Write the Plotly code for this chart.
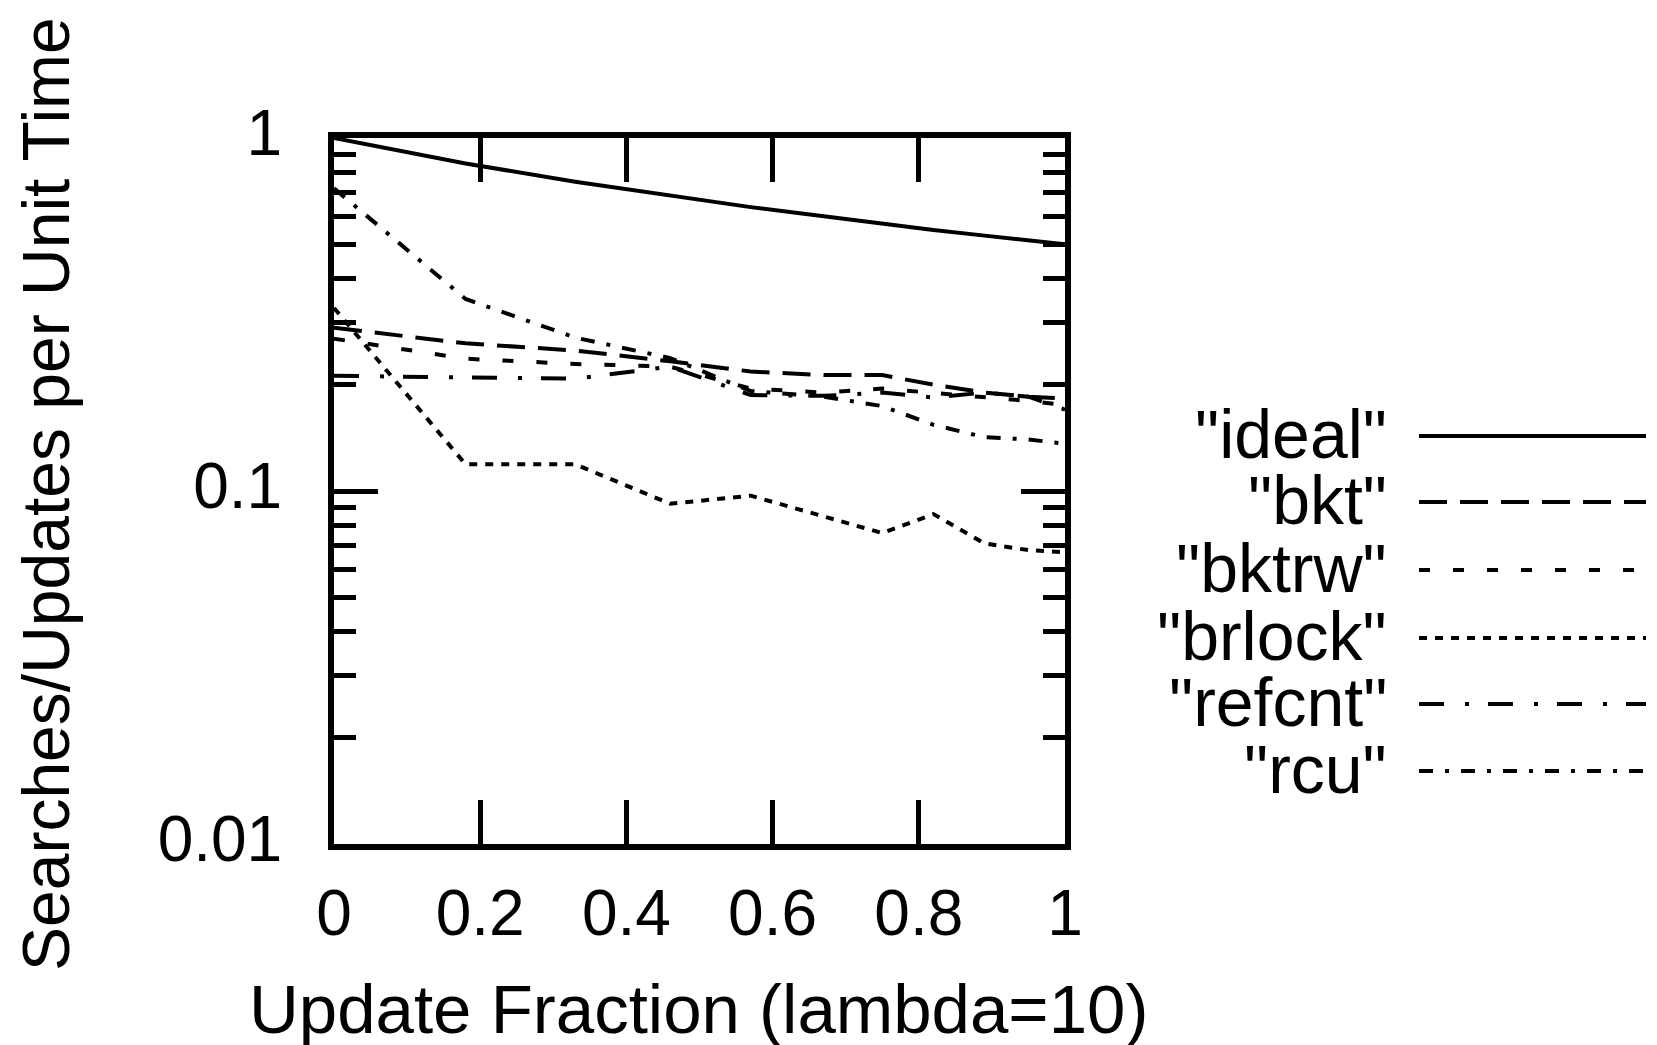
import plotly.graph_objects as go

# ---- data ----
update_fraction = [0, 0.18, 0.33, 0.46, 0.57, 0.67, 0.75, 0.82, 0.89, 0.95, 1.0]
ideal  = [1.0, 0.847, 0.752, 0.685, 0.637, 0.600, 0.571, 0.549, 0.529, 0.513, 0.500]
bkt    = [0.290, 0.262, 0.250, 0.233, 0.218, 0.213, 0.213, 0.200, 0.190, 0.185, 0.183]
bktrw  = [0.270, 0.237, 0.229, 0.225, 0.195, 0.190, 0.195, 0.190, 0.185, 0.180, 0.175]
brlock = [0.330, 0.119, 0.119, 0.092, 0.097, 0.085, 0.076, 0.086, 0.071, 0.068, 0.067]
refcnt = [0.212, 0.210, 0.208, 0.225, 0.187, 0.186, 0.190, 0.184, 0.190, 0.185, 0.170]
rcu    = [0.720, 0.350, 0.272, 0.238, 0.192, 0.185, 0.174, 0.154, 0.142, 0.140, 0.136]

series_names = ['"ideal"', '"bkt"', '"bktrw"', '"brlock"', '"refcnt"', '"rcu"']
series_values = [ideal, bkt, bktrw, brlock, refcnt, rcu]
x_ticks = [0, 0.2, 0.4, 0.6, 0.8, 1]
x_tick_labels = ["0", "0.2", "0.4", "0.6", "0.8", "1"]
y_ticks = [0.01, 0.1, 1]
y_tick_labels = ["0.01", "0.1", "1"]
x_title = "Update Fraction (lambda=10)"
y_title = "Searches/Updates per Unit Time"

# ---- styles ----
dashes = ["solid", "28px,13px", "11px,23px", "8px,8px", "25px,21px,4px,19px", "14px,12px,4px,12px"]
LW = 4
FONT = "Liberation Sans, Arial, Helvetica, sans-serif"

OFF = 5  # page offset compensation
W, H = 1657 - OFF, 1045 - OFF
L, R, T, B = 331 - OFF, 1062 - OFF, 135 - OFF, 841 - OFF

fig = go.Figure()
for name, vals, dash in zip(series_names, series_values, dashes):
    fig.add_trace(go.Scatter(x=update_fraction, y=vals, mode="lines", name=name,
                             line=dict(color="black", width=LW, dash=dash),
                             showlegend=False))

def px_x(px):
    return (px - OFF - L) / (R - L)

def px_y(py):
    return (B - (py - OFF)) / (B - T)

annotations = [
    dict(text=x_title, x=px_x(695), y=px_y(1006), xref="paper", yref="paper",
         showarrow=False, xanchor="center", yanchor="middle",
         font=dict(family=FONT, size=69, color="black")),
    dict(text=y_title, x=px_x(43), y=px_y(491), xref="paper", yref="paper",
         showarrow=False, xanchor="center", yanchor="middle", textangle=-90,
         font=dict(family=FONT, size=66, color="black")),
]
shapes = []
row_y = [433, 499, 567, 635, 701, 768]
for name, dash, ry in zip(series_names, dashes, row_y):
    annotations.append(dict(text=name, x=px_x(1386), y=px_y(ry - 2), xref="paper", yref="paper",
                            showarrow=False, xanchor="right", yanchor="middle",
                            font=dict(family=FONT, size=68, color="black")))
    shapes.append(dict(type="line", xref="paper", yref="paper",
                       x0=px_x(1416), x1=px_x(1643), y0=px_y(ry), y1=px_y(ry),
                       line=dict(color="black", width=LW, dash=dash)))

fig.update_layout(
    width=W, height=H,
    margin=dict(l=L, r=W - R, t=T, b=H - B, pad=0),
    paper_bgcolor="white", plot_bgcolor="white",
    annotations=annotations, shapes=shapes,
    showlegend=False,
    font=dict(family=FONT, color="black"),
)
fig.update_xaxes(
    range=[0, 1], tickvals=x_ticks, ticktext=x_tick_labels,
    ticks="inside", ticklen=44, tickwidth=5, tickcolor="black",
    showline=True, linecolor="black", linewidth=6, mirror="allticks",
    showgrid=False, zeroline=False,
    tickfont=dict(family=FONT, size=64, color="black"),
    ticklabelstandoff=8,
)
fig.update_yaxes(
    type="log", range=[-2, 0], tickvals=y_ticks, ticktext=y_tick_labels,
    ticks="inside", ticklen=44, tickwidth=5, tickcolor="black",
    minor=dict(ticks="inside", ticklen=22, tickwidth=5, tickcolor="black", dtick="D1", showgrid=False),
    showline=True, linecolor="black", linewidth=6, mirror="allticks",
    showgrid=False, zeroline=False,
    tickfont=dict(family=FONT, size=64, color="black"),
    ticklabelstandoff=33, ticklabelshift=-5,
)

fig.write_html("out.html")
